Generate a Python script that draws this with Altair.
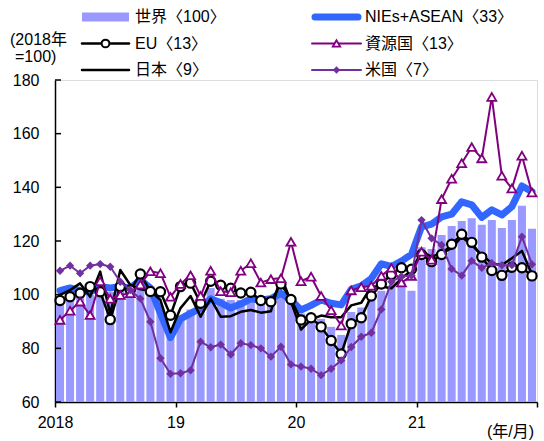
import altair as alt
import pandas as pd

# ---- monthly indices, Jan 2018 .. Dec 2021 (2018 = 100) ----
months = list(range(48))

world = [99, 101, 101, 100, 103, 101, 102, 102, 104, 103, 94, 87,
         91, 94.5, 96, 102.5, 98.5, 98, 98, 99, 99, 99.5, 101, 98,
         93, 92, 91, 88, 85, 93.5, 95.2, 99, 101.5, 103.3, 104.8, 101.5,
         117.7, 117, 122.2, 125.6, 127.5, 128.5, 126.1, 127.8, 124.8, 127.8, 133.1, 124.6]

nies = [101.5, 102.5, 101.5, 101, 103, 102.5, 103, 102.5, 105.5, 102.5, 93, 84,
        91, 93, 95, 98.5, 97, 95, 96.5, 98.5, 98, 98.5, 100.5, 98,
        94.3, 96, 98, 96.8, 96.2, 102, 103.3, 106, 111.5, 110.5, 112.5, 115,
        125.3, 126.3, 129, 130, 134.6, 133.5, 128.8, 131.6, 129.7, 132.8, 140.5, 138.4]

eu = [97.8, 99.2, 100.5, 103, 101.1, 90.7, 103, 101.7, 107.7, 101.2, 101.1, 92.3,
      103, 104.3, 96.8, 105, 103.5, 102.4, 100.6, 100.9, 97.8, 97.4, 104, 98.2,
      90.6, 91.4, 88, 82.9, 77.9, 89.2, 91.4, 99.5, 104, 107.5, 110, 109.5,
      115, 112.3, 115, 118.8, 122.5, 119.5, 114, 109, 107.2, 110.2, 110, 107]

resource = [90.6, 94, 97.4, 92.4, 105, 98.5, 99.9, 100.5, 103.8, 108.7, 108, 99.2,
            104, 107.2, 99.5, 108.9, 101.3, 100.9, 108.9, 111.7, 104.5, 105.8, 106.1, 119.7,
            105, 106.7, 99.5, 94.2, 88.5, 101.6, 102.8, 103.3, 107, 110, 104.5, 107,
            116, 113, 135.6, 143.2, 149, 155, 150.8, 173.7, 144.3, 139.6, 151.8, 138.1]

japan = [99.9, 101.7, 104.2, 99.2, 108.6, 93, 109.2, 103.6, 102, 101.5, 98, 86,
         95, 99.5, 91.8, 98.5, 91.8, 92, 93.6, 94.3, 93.3, 93.8, 107, 97.4,
         87, 90.8, 92.2, 91.6, 91.6, 96, 97, 103, 103, 102.4, 106, 109,
         116, 114.2, 115.4, 117.3, 121.6, 118.5, 114.8, 111.7, 111, 113.6, 116.3, 107.6]

usa = [108.9, 110.8, 108, 110.8, 111.4, 110.4, 104.8, 101.7, 98.5, 89.9, 76.3, 70.5,
       70.7, 71.8, 82.5, 80.4, 81.4, 77.7, 81.9, 81.2, 80, 76.9, 80.6, 74,
       73.2, 72.4, 70, 72.4, 75.5, 80.5, 84.3, 85.8, 94.5, 104.8, 106.8, 107.1,
       127.8, 121, 118.5, 109.6, 107.1, 112.6, 110, 111.7, 111, 111, 121.6, 111.3]

year_ticks = [0, 12, 24, 36, 48]
year_labels = ["2018", "19", "20", "21", ""]
y_ticks = [60, 80, 100, 120, 140, 160, 180]

legend_labels = ["世界〈100〉", "NIEs+ASEAN〈33〉", "EU〈13〉", "資源国〈13〉", "日本〈9〉", "米国〈7〉"]

# ---- styling ----
FONT = "Liberation Sans, Noto Sans CJK JP, sans-serif"
BAR = "#9999ff"
BLUE = "#3366ff"
RES = "#800080"
US = "#7030a0"

df = pd.DataFrame({"m": months, "world": world, "nies": nies, "eu": eu,
                   "res": resource, "jp": japan, "us": usa})

xscale = alt.Scale(domain=[0, 48], nice=False, zero=False)
yscale = alt.Scale(domain=[60, 180], nice=False, zero=False)

label_expr = " : ".join(
    f"datum.value == {v} ? '{t}'" for v, t in zip(year_ticks, year_labels)
) + " : ''"

xaxis = alt.Axis(values=year_ticks, labelExpr=label_expr, title=None, grid=False,
                 tickSize=5, labelPadding=7, labelFontSize=16, labelFont=FONT,
                 labelColor="black", domainColor="black", tickColor="black",
                 domainWidth=1.5, tickWidth=1.5, labelFlush=False)
yaxis = alt.Axis(values=y_ticks, title=None, grid=False, tickSize=0, labelPadding=16,
                 labelFontSize=16, labelFont=FONT, labelColor="black",
                 domainColor="black", domainWidth=1.5)

base = alt.Chart(df).transform_calculate(
    xc="datum.m + 0.5", x0="datum.m + 0.1", x1="datum.m + 0.9"
)

bars = base.mark_bar(color=BAR).encode(
    x=alt.X("x0:Q", scale=xscale, axis=xaxis),
    x2="x1:Q",
    y=alt.Y("world:Q", scale=yscale, axis=yaxis),
    y2=alt.datum(60),
)


def series_line(field, color, width, point=None):
    kw = dict(color=color, strokeWidth=width, strokeJoin="round", strokeCap="round")
    if point is not None:
        kw["point"] = point
    return base.mark_line(**kw).encode(
        x=alt.X("xc:Q", scale=xscale, axis=xaxis),
        y=alt.Y(f"{field}:Q", scale=yscale, axis=yaxis),
    )


line_nies = series_line("nies", BLUE, 7)
line_jp = series_line("jp", "black", 2.5)
line_eu = series_line("eu", "black", 2.5, alt.OverlayMarkDef(
    shape="circle", filled=True, fill="white", stroke="black", strokeWidth=2.2, size=85))
line_res = series_line("res", RES, 2, alt.OverlayMarkDef(
    shape="triangle-up", filled=True, fill="white", stroke=RES, strokeWidth=1.8, size=80))
line_us = series_line("us", US, 2, alt.OverlayMarkDef(
    shape="diamond", filled=True, fill=US, size=70))

# inward ticks on the value axis
yticks = alt.Chart(pd.DataFrame({"v": y_ticks})).mark_rule(
    color="black", strokeWidth=1.5
).encode(y=alt.Y("v:Q", scale=yscale, axis=yaxis), x=alt.value(0), x2=alt.value(6))

# ---- legend and captions (pixel layout relative to plot area) ----
one = pd.DataFrame({"k": [0]})
col_sym = [(27, 74), (257, 306)]
col_txt = [80, 310]
row_y = [-63, -36.5, -10]


def txt(s, x, y, align="left", size=16):
    return alt.Chart(one).mark_text(
        text=s, align=align, baseline="middle", font=FONT, fontSize=size, color="black"
    ).encode(x=alt.value(x), y=alt.value(y))


def rule(x0, x1, y, color, width):
    return alt.Chart(one).mark_rule(color=color, strokeWidth=width, strokeCap="round").encode(
        x=alt.value(x0), x2=alt.value(x1), y=alt.value(y))


def pt(x, y, **kw):
    return alt.Chart(one).mark_point(**kw).encode(x=alt.value(x), y=alt.value(y))


legend = [
    alt.Chart(one).mark_rect(color=BAR).encode(
        x=alt.value(col_sym[0][0]), x2=alt.value(col_sym[0][1]),
        y=alt.value(row_y[0] - 4.5), y2=alt.value(row_y[0] + 4.5)),
    rule(col_sym[1][0] + 3, col_sym[1][1] - 3, row_y[0], BLUE, 7),
    rule(col_sym[0][0], col_sym[0][1], row_y[1], "black", 2.5),
    pt((col_sym[0][0] + col_sym[0][1]) / 2, row_y[1], shape="circle", filled=True,
       fill="white", stroke="black", strokeWidth=2, size=60, opacity=1),
    rule(col_sym[1][0], col_sym[1][1], row_y[1], RES, 2),
    pt((col_sym[1][0] + col_sym[1][1]) / 2, row_y[1], shape="triangle-up", filled=True,
       fill="white", stroke=RES, strokeWidth=1.8, size=55, opacity=1),
    rule(col_sym[0][0], col_sym[0][1], row_y[2], "black", 2.5),
    rule(col_sym[1][0], col_sym[1][1], row_y[2], US, 2),
    pt((col_sym[1][0] + col_sym[1][1]) / 2, row_y[2], shape="diamond", filled=True,
       fill=US, size=55, opacity=1),
]
for i, lab in enumerate(legend_labels):
    legend.append(txt(lab, col_txt[i % 2], row_y[i // 2]))

captions = [
    txt("(2018年", -45, -40),
    txt("=100)", -40, -23),
    txt("(年/月)", 432, 352),
]

chart = alt.layer(
    bars, line_nies, line_jp, line_eu, line_res, line_us, yticks, *legend, *captions
).properties(
    width=482, height=322,
    autosize=alt.AutoSizeParams(type="none"),
    padding={"left": 55, "top": 80, "right": 7, "bottom": 39},
).configure_view(stroke=None).configure(background="white")

chart.save("out.html", embed_options={"renderer": "svg", "actions": False})
